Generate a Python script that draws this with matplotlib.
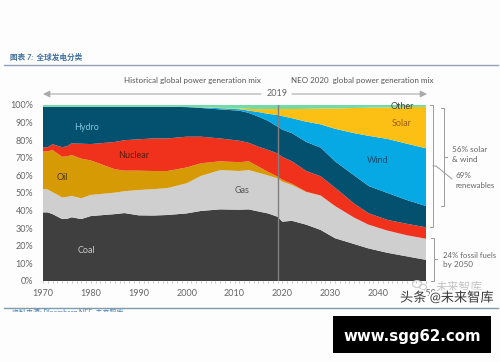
import matplotlib
matplotlib.use('Agg')
import matplotlib.pyplot as plt
import matplotlib.patheffects as pe
from matplotlib.patches import Ellipse

plt.rcParams['font.family'] = ['Lato', 'Noto Sans CJK SC', 'DejaVu Sans']

years = [1970, 1971, 1972, 1974, 1975, 1976, 1978, 1980, 1985, 1987, 1990, 1993, 1996, 2000, 2003, 2007,
         2011, 2013, 2015, 2017, 2019, 2020, 2022, 2025, 2028, 2031, 2035, 2038, 2042, 2046, 2050]
coal = [39, 39, 38, 35.2, 35.3, 36.2, 35.2, 36.9, 38, 38.6, 37.3, 37.2, 37.5, 38.4, 39.8, 40.7,
        40.5, 40.7, 39.5, 38.4, 36.5, 33.7, 34.2, 32, 29, 24.3, 21, 18.5, 16, 14, 12]
gas = [13.3, 13, 12.5, 12.3, 12.5, 12.1, 11.8, 12, 12.2, 12.4, 14.4, 15, 15.3, 17.1, 19.9, 22.3,
       22, 22.3, 22, 21.6, 21.8, 22.7, 20.3, 18.5, 19.5, 18.3, 15, 13.5, 12.6, 12, 12]
oil = [21.2, 21.7, 23.9, 23.1, 23, 23.3, 22.5, 19.6, 13.3, 11.7, 11, 10.3, 9.7, 9, 7.2, 5,
       5, 5, 3.5, 2, 1, 1.1, 0.7, 0.2, 0.1, 0, 0, 0, 0, 0, 0]
nuclear = [2.5, 2.3, 3.3, 5.4, 5.7, 6.6, 8.5, 9.3, 15.5, 17.3, 17.8, 18.5, 18.5, 17.5, 15.1, 13,
           12.2, 10.5, 11.3, 12.5, 13.2, 13, 12.8, 11.8, 10.9, 10.4, 8, 6.5, 6.1, 6.5, 6.5]
hydro = [23, 23, 21.3, 23, 22.5, 20.8, 21, 21.2, 20, 19, 18.5, 18, 18, 16.8, 16.3, 16.5,
         17.1, 17, 17.1, 16.5, 15.2, 15.5, 16, 16.5, 16.3, 15, 16, 15.5, 15.3, 13.5, 12.1]
wind = [0, 0, 0, 0, 0, 0, 0, 0, 0, 0, 0, 0, 0, 0.1, 0.3, 0.7,
        0.8, 1.3, 2.6, 4, 6.6, 7.7, 8.5, 11.5, 13.2, 18.5, 24, 28.5, 30.7, 32, 32.8]
solar = [0, 0, 0, 0, 0, 0, 0, 0, 0, 0, 0, 0, 0, 0, 0.1, 0.2,
         0.4, 1, 1.6, 2.7, 3.4, 4, 5.2, 7.3, 9, 11.5, 14.3, 16, 17.9, 20.8, 23.6]
other = [1, 1, 1, 1, 1, 1, 1, 1, 1, 1, 1, 1, 1, 1.1, 1.3, 1.6,
         2, 2.2, 2.4, 2.3, 2.3, 2.3, 2.3, 2.2, 2, 2, 1.7, 1.5, 1.4, 1.2, 1]
colors = ['#403f40', '#cfcfd0', '#d69a05', '#f0311c', '#04516f', '#06a9e3', '#fcc015', '#72dba5']
pct_ticks = [0, 10, 20, 30, 40, 50, 60, 70, 80, 90, 100]
year_ticks = [1970, 1980, 1990, 2000, 2010, 2020, 2030, 2040, 2050]

fig = plt.figure(figsize=(5, 3.62), dpi=100, facecolor='#fdfdfd')

# overlay in pixel coordinates for the page furniture
ov = fig.add_axes([0, 0, 1, 1], zorder=3)
ov.set_xlim(0, 500)
ov.set_ylim(362, 0)
ov.axis('off')

ax = fig.add_axes([43 / 500, 81 / 362, 383 / 500, 176 / 362], zorder=2)
ax.stackplot(years, coal, gas, oil, nuclear, hydro, wind, solar, other, colors=colors, linewidth=0)
ax.axvline(2019, color='#808080', lw=1)
ax.set_xlim(1970, 2050)
ax.set_ylim(0, 100)
ax.patch.set_alpha(0)
for s in ax.spines.values():
    s.set_visible(False)
ax.set_xticks(year_ticks)
ax.set_xticks(range(1970, 2051), minor=True)
ax.set_xticklabels(year_ticks, fontsize=6.5, color='#666666')
ax.set_yticks(pct_ticks)
ax.set_yticklabels([str(p) + '%' for p in pct_ticks], fontsize=6.5, color='#666666')
ax.tick_params(axis='x', which='both', length=1.5, width=0.6, color='#bbbbbb', pad=4)
ax.tick_params(axis='y', length=0, pad=7)

ax.text(1979, 87, 'Hydro', fontsize=6.5, color='#7fc3dc', ha='center', va='center')
ax.text(1989, 71.5, 'Nuclear', fontsize=6.5, color='#5e1c10', ha='center', va='center')
ax.text(1974, 59, 'Oil', fontsize=6.5, color='#4a3205', ha='center', va='center')
ax.text(2011.5, 51.5, 'Gas', fontsize=6.5, color='#555555', ha='center', va='center')
ax.text(1979, 17.5, 'Coal', fontsize=6.5, color='#c8c8c8', ha='center', va='center')
ax.text(2039.8, 68.5, 'Wind', fontsize=6.5, color='#0c4a68', ha='center', va='center')
ax.text(2045, 89.5, 'Solar', fontsize=6.5, color='#9c5f18', ha='center', va='center')
ax.text(2045, 99, 'Other', fontsize=6.5, color='#444444', ha='center', va='center')

# header and footer rules, footer text is cut off in the source
ov.plot([4, 498], [64.5, 64.5], color='#8ea4b6', lw=1)
ov.plot([4, 498], [308, 308], color='#7f9bab', lw=1)
ov.text(10, 57, '图表 7:  全球发电分类', fontsize=5.5, color='#3f6f9f', style='italic', va='center', weight='bold')
ov.text(12, 312, '资料来源: Bloomberg NEF, 未来智库', fontsize=5, color='#4a80b0', va='center', zorder=1)
ov.fill_between([0, 500], 311.5, 362, color='#fdfdfd', lw=0, zorder=2.5)

# titles and timeline arrows
ov.text(192, 80, 'Historical global power generation mix', fontsize=5.8, color='#555555', ha='center', va='center')
ov.text(362, 80, 'NEO 2020  global power generation mix', fontsize=5.8, color='#555555', ha='center', va='center')
ov.text(277, 94, '2019', fontsize=6.5, color='#666666', ha='center', va='center')
for start, end in [((261, 94), (43, 94)), ((292, 94), (427, 94))]:
    ov.annotate('', xy=end, xytext=start,
                arrowprops=dict(arrowstyle='-|>', color='#aaaaaa', lw=0.8, shrinkA=0, shrinkB=0))

# brackets on the right
bracket = dict(color='#9a9a9a', lw=0.7)
ov.plot([430, 433, 433, 430], [105, 105, 227, 227], **bracket)
ov.plot([441, 444, 444, 441], [108, 108, 206, 206], **bracket)
ov.plot([444, 447], [157, 157], **bracket)
ov.plot([433, 436, 452], [166, 166, 179], **bracket)
ov.plot([431, 434, 434, 431], [238, 238, 281, 281], **bracket)
ov.plot([434, 437], [259, 259], **bracket)
ov.text(452, 149, '56% solar', fontsize=5.9, color='#666666', va='center')
ov.text(452, 159, '& wind', fontsize=5.9, color='#666666', va='center')
ov.text(456, 175, '69%', fontsize=5.9, color='#666666', va='center')
ov.text(456, 185, 'renewables', fontsize=5.7, color='#666666', va='center')
ov.text(443, 256, '24% fossil fuels', fontsize=5.6, color='#666666', va='center')
ov.text(443, 264.5, 'by 2050', fontsize=5.9, color='#666666', va='center')

# watermarks and banner
ov.add_patch(Ellipse((417, 284), 9, 7, fill=False, ec='#cccccc', lw=0.8, zorder=4))
ov.add_patch(Ellipse((423, 287), 7, 5.5, fill=False, ec='#cccccc', lw=0.8, zorder=4))
ov.text(436, 287, '未来智库', fontsize=8.5, color='#c4c4c4', va='center', zorder=4)
ov.text(400, 297, '头条 @未来智库', fontsize=9.5, color='#3a3a3a', va='center', zorder=5,
        path_effects=[pe.withStroke(linewidth=3, foreground='#fdfdfd')])
ov.fill_between([333, 491], 316, 353, color='black', lw=0, zorder=6)
ov.text(412, 336, 'www.sgg62.com', fontsize=10.8, color='white', weight='bold',
        family='DejaVu Sans', ha='center', va='center', zorder=7)

fig.savefig('out.png', dpi=100, facecolor=fig.get_facecolor())
